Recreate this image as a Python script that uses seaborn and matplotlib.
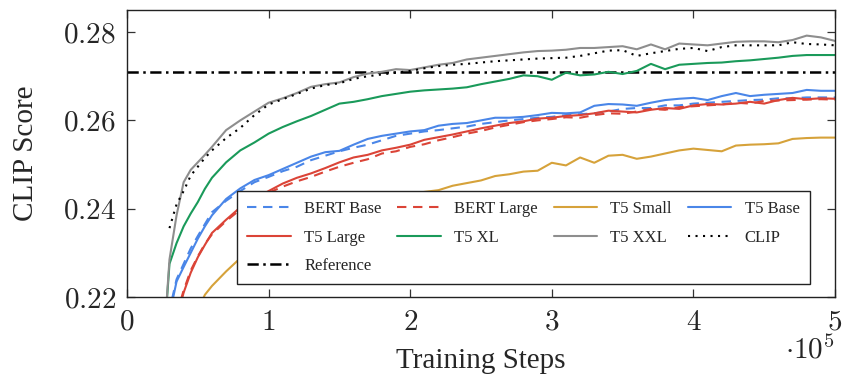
import numpy as np
import pandas as pd
import matplotlib
matplotlib.use("Agg")
import matplotlib.pyplot as plt
from matplotlib.lines import Line2D
from matplotlib.ticker import FuncFormatter, FixedLocator
import seaborn as sns

# ---------------- data (x in units of 1e5 training steps) ----------------
steps = [0.25, 0.3, 0.35, 0.4, 0.45, 0.5, 0.55, 0.6, 0.7, 0.8, 0.9, 1.0,
         1.1, 1.2, 1.3, 1.4, 1.5, 1.6, 1.7, 1.8, 1.9, 2.0, 2.1, 2.2, 2.3,
         2.4, 2.5, 2.6, 2.7, 2.8, 2.9, 3.0, 3.1, 3.2, 3.3, 3.4, 3.5, 3.6,
         3.7, 3.8, 3.9, 4.0, 4.1, 4.2, 4.3, 4.4, 4.5, 4.6, 4.7, 4.8, 4.9, 5.0]

bert_base = [0.200, 0.2170, 0.2240, 0.2275, 0.2310, 0.2338, 0.2365, 0.2392,
             0.2418, 0.2440, 0.2460, 0.2472, 0.2485, 0.2495, 0.2510, 0.2520,
             0.2530, 0.2538, 0.2545, 0.2555, 0.2565, 0.2570, 0.2575, 0.2578,
             0.2582, 0.2586, 0.2592, 0.2596, 0.2600, 0.2603, 0.2606, 0.2608,
             0.2612, 0.2614, 0.2616, 0.2620, 0.2626, 0.2628, 0.2628, 0.2634,
             0.2634, 0.2638, 0.2640, 0.2642, 0.2644, 0.2646, 0.2647, 0.2650,
             0.2650, 0.2652, 0.2652, 0.2652]

bert_large = [0.195, 0.205, 0.2160, 0.2215, 0.2260, 0.2292, 0.2320, 0.2342,
              0.2372, 0.2398, 0.2418, 0.2436, 0.2450, 0.2462, 0.2472, 0.2484,
              0.2495, 0.2504, 0.2512, 0.2525, 0.2530, 0.2540, 0.2546, 0.2555,
              0.2562, 0.2570, 0.2576, 0.2584, 0.2590, 0.2596, 0.2600, 0.2603,
              0.2607, 0.2606, 0.2612, 0.2616, 0.2615, 0.2620, 0.2626, 0.2624,
              0.2630, 0.2632, 0.2634, 0.2636, 0.2640, 0.2638, 0.2644, 0.2645,
              0.2646, 0.2647, 0.2648, 0.2647]

t5_small = [0.180, 0.190, 0.198, 0.205, 0.212, 0.217, 0.2205, 0.2225,
            0.2258, 0.2288, 0.2312, 0.2332, 0.2350, 0.2365, 0.2378, 0.2390,
            0.2400, 0.2408, 0.2415, 0.2422, 0.2428, 0.2434, 0.2438, 0.2442,
            0.2452, 0.2458, 0.2464, 0.2474, 0.2478, 0.2484, 0.2486, 0.2504,
            0.2498, 0.2516, 0.2504, 0.2520, 0.2522, 0.2513, 0.2518, 0.2525,
            0.2532, 0.2536, 0.2533, 0.2530, 0.2543, 0.2545, 0.2546, 0.2548,
            0.2558, 0.2560, 0.2561, 0.2561]

t5_base = [0.200, 0.2160, 0.2235, 0.2268, 0.2300, 0.2332, 0.2360, 0.2385,
           0.2422, 0.2446, 0.2465, 0.2476, 0.2490, 0.2504, 0.2518, 0.2528,
           0.2531, 0.2545, 0.2558, 0.2565, 0.2570, 0.2575, 0.2578, 0.2588,
           0.2592, 0.2594, 0.2600, 0.2606, 0.2606, 0.2608, 0.2612, 0.2617,
           0.2616, 0.2618, 0.2633, 0.2637, 0.2636, 0.2633, 0.2640, 0.2646,
           0.2649, 0.2651, 0.2646, 0.2655, 0.2662, 0.2655, 0.2658, 0.2660,
           0.2662, 0.2669, 0.2667, 0.2667]

t5_large = [0.195, 0.205, 0.2150, 0.2210, 0.2255, 0.2290, 0.2318, 0.2345,
            0.2375, 0.2403, 0.2422, 0.2440, 0.2457, 0.2470, 0.2480, 0.2492,
            0.2505, 0.2516, 0.2522, 0.2532, 0.2538, 0.2545, 0.2556, 0.2562,
            0.2568, 0.2575, 0.2582, 0.2588, 0.2594, 0.2598, 0.2604, 0.2606,
            0.2610, 0.2612, 0.2616, 0.2622, 0.2620, 0.2618, 0.2624, 0.2628,
            0.2626, 0.2634, 0.2637, 0.2636, 0.2638, 0.2642, 0.2638, 0.2646,
            0.2651, 0.2648, 0.2650, 0.2649]

t5_xl = [0.205, 0.2275, 0.2322, 0.2360, 0.2389, 0.2415, 0.2445, 0.2470,
         0.2505, 0.2532, 0.2550, 0.2570, 0.2585, 0.2598, 0.2610, 0.2624,
         0.2638, 0.2642, 0.2648, 0.2655, 0.2660, 0.2665, 0.2668, 0.2670,
         0.2672, 0.2675, 0.2682, 0.2688, 0.2694, 0.2702, 0.2700, 0.2692,
         0.2708, 0.2702, 0.2704, 0.2710, 0.2705, 0.2712, 0.2728, 0.2716,
         0.2726, 0.2728, 0.2730, 0.2731, 0.2734, 0.2736, 0.2739, 0.2742,
         0.2746, 0.2748, 0.2748, 0.2748]

t5_xxl = [0.205, 0.2285, 0.2385, 0.2460, 0.2488, 0.2505, 0.2522, 0.2540,
          0.2578, 0.2600, 0.2620, 0.2640, 0.2650, 0.2662, 0.2676, 0.2682,
          0.2686, 0.2698, 0.2706, 0.2710, 0.2716, 0.2714, 0.2720, 0.2726,
          0.2730, 0.2738, 0.2742, 0.2746, 0.2750, 0.2754, 0.2757, 0.2758,
          0.2760, 0.2764, 0.2764, 0.2766, 0.2768, 0.2761, 0.2772, 0.2761,
          0.2774, 0.2772, 0.2770, 0.2774, 0.2778, 0.2779, 0.2779, 0.2777,
          0.2782, 0.2792, 0.2788, 0.2780]

clip = [np.nan, 0.2356, 0.2410, 0.2440, 0.2475, 0.2495, 0.2515, 0.2532,
        0.2560, 0.2583, 0.2612, 0.2636, 0.2648, 0.2660, 0.2672, 0.2680,
        0.2684, 0.2694, 0.2700, 0.2704, 0.2708, 0.2712, 0.2718, 0.2723,
        0.2726, 0.2728, 0.2731, 0.2734, 0.2736, 0.2738, 0.2740, 0.2741,
        0.2742, 0.2746, 0.2752, 0.2758, 0.2759, 0.2746, 0.2752, 0.2757,
        0.2762, 0.2764, 0.2757, 0.2766, 0.2770, 0.2770, 0.2770, 0.2770,
        0.2777, 0.2773, 0.2772, 0.2770]

reference_score = 0.271

x_ticks = [0, 1, 2, 3, 4, 5]
y_ticks = [0.22, 0.24, 0.26, 0.28]

series_names = ["BERT Base", "BERT Large", "T5 Small", "T5 Base",
                "T5 Large", "T5 XL", "T5 XXL", "CLIP"]
series_values = [bert_base, bert_large, t5_small, t5_base,
                 t5_large, t5_xl, t5_xxl, clip]

# ---------------- styles ----------------
BLUE = "#4A86E8"
RED = "#DB4437"
YELLOW = "#D6A23A"
GREEN = "#1A9A5A"
GRAY = "#8E8E8E"
palette = {"BERT Base": BLUE, "BERT Large": RED, "T5 Small": YELLOW,
           "T5 Base": BLUE, "T5 Large": RED, "T5 XL": GREEN,
           "T5 XXL": GRAY, "CLIP": "black"}
dash_map = {"BERT Base": (4.5, 3.2), "BERT Large": (4.5, 3.2), "T5 Small": "",
            "T5 Base": "", "T5 Large": "", "T5 XL": "", "T5 XXL": "",
            "CLIP": (1.0, 2.6)}

frames = []
for name, vals in zip(series_names, series_values):
    frames.append(pd.DataFrame({"steps": steps, "score": vals, "model": name}))
df = pd.concat(frames, ignore_index=True).dropna()

sns.set_style("ticks")
plt.rcParams["font.family"] = ["Liberation Serif", "DejaVu Serif"]
plt.rcParams["mathtext.fontset"] = "cm"

fig = plt.figure(figsize=(8.42, 3.78), dpi=100)
ax = fig.add_axes([127 / 842, 1 - 297 / 378, (835 - 127) / 842, (297 - 10) / 378])

LW = 1.5
sns.lineplot(data=df, x="steps", y="score", hue="model", style="model",
             hue_order=series_names, style_order=series_names,
             palette=palette, dashes=dash_map, estimator=None, errorbar=None,
             linewidth=LW, legend=False, ax=ax)

ref_style = (0, (4.5, 1.8, 1.0, 1.8))
ax.axhline(reference_score, color="black", linewidth=1.8, linestyle=ref_style,
           zorder=1.5)

ax.set_xlim(0, 5)
ax.set_ylim(0.22, 0.285)
ax.xaxis.set_major_locator(FixedLocator(x_ticks))
ax.yaxis.set_major_locator(FixedLocator(y_ticks))
ax.xaxis.set_major_formatter(FuncFormatter(lambda v, p: f"${v:g}$"))
ax.yaxis.set_major_formatter(FuncFormatter(lambda v, p: f"${v:.2f}$"))
ax.tick_params(direction="in", length=6, width=0.9, top=True, right=True,
               labelsize=21, color="#333333")
ax.tick_params(axis="x", pad=9)
ax.tick_params(axis="y", pad=8)
for s in ax.spines.values():
    s.set_linewidth(1.0)
    s.set_color("#222222")

ax.set_xlabel("Training Steps", fontsize=21, labelpad=9)
ax.set_ylabel("CLIP Score", fontsize=21, labelpad=17)
ax.text(1.0, -0.185, r"$\cdot 10^{5}$", transform=ax.transAxes, ha="right",
        va="center", fontsize=21)

# legend (row-major order of the reference, arranged for column filling)
def proxy(name):
    d = dash_map[name]
    ls = "-" if d == "" else (0, d)
    return Line2D([], [], color=palette[name], linewidth=LW, linestyle=ls)

handles = {n: proxy(n) for n in series_names}
handles["Reference"] = Line2D([], [], color="black", linewidth=1.8,
                              linestyle=ref_style)
order = ["BERT Base", "T5 Large", "Reference", "BERT Large", "T5 XL",
         "T5 Small", "T5 XXL", "T5 Base", "CLIP"]
leg = ax.legend([handles[n] for n in order], order, ncol=4,
                loc="lower left", mode="expand",
                bbox_to_anchor=(0.156, 0.045, 0.808, 0.3),
                borderaxespad=0, fontsize=12, handlelength=2.6,
                handletextpad=0.8, labelspacing=0.75, borderpad=0.6,
                columnspacing=0.8, frameon=True, fancybox=False,
                framealpha=1, edgecolor="#222222")
leg.get_frame().set_linewidth(1.0)
leg.set_zorder(5)

fig.savefig("out.png", dpi=100)
